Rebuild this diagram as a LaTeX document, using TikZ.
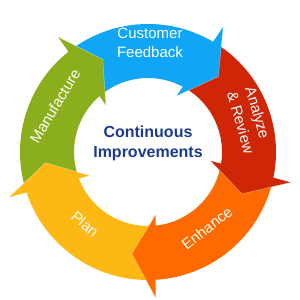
\documentclass[tikz,border=0pt]{standalone}
\usepackage{fontspec}
\setmainfont{Liberation Sans}
\usetikzlibrary{positioning}
\definecolor{fbblue}{HTML}{10A6F5}
\definecolor{revred}{HTML}{CF2608}
\definecolor{enhorange}{HTML}{FF6A00}
\definecolor{planyellow}{HTML}{FDB813}
\definecolor{mfggreen}{HTML}{8BAF1C}
\definecolor{titlenavy}{HTML}{1D3A8F}
% band of one stage: tail under the previous head (#3), end under its own head (#2)
\newcommand{\ringband}[3]{%
  \fill[#1] ({#3+11}:128) arc[start angle=#3+11, end angle=#2+12, radius=128pt]
    -- ({#2+12}:74) arc[start angle=#2+12, end angle=#3+14, radius=74pt] -- cycle;}
% arrow head of one stage, tip at angle #2
\newcommand{\ringhead}[2]{%
  \fill[#1] ({#2+12}:146) -- (#2:103) -- ({#2+16}:63) -- cycle;
  \draw[headedge] ({#2+12}:146) -- (#2:103) -- ({#2+16}:63);}

\begin{document}
\begin{tikzpicture}[
  x=1pt,y=1pt,
  headedge/.style={draw=white,opacity=0.5,line width=0.4pt,line join=round},
  stagelabel/.style={text=white,align=center,inner sep=0pt,
    font=\fontsize{15}{19}\selectfont},
  title/.style={text=titlenavy,align=center,inner sep=0pt,
    font=\bfseries\fontsize{16}{20}\selectfont}
]
\useasboundingbox[fill=white] (-148,-148) rectangle (152,152);
\ringband{fbblue}{47}{116}
\ringband{revred}{-24}{47}
\ringband{enhorange}{-99}{-24}
\ringband{planyellow}{-174}{-99}
\ringband{mfggreen}{-244}{-174}
\ringhead{fbblue}{47}
\ringhead{revred}{-24}
\ringhead{enhorange}{-99}
\ringhead{planyellow}{-174}
\ringhead{mfggreen}{-244}
\node[stagelabel] (feedback) at (2,109) {Customer\\Feedback};
\node[stagelabel,align=left,rotate=-74] (review) at (102,32) {Analyze\\\& Review};
\node[stagelabel,rotate=38] (enhance) at (59,-76) {Enhance};
\node[stagelabel,rotate=-40] (plan) at (-63,-72) {Plan};
\node[stagelabel,rotate=59] (manufacture) at (-93,46) {Manufacture};
\node[title] (center) at (0,9) {Continuous\\Improvements};
\end{tikzpicture}
\end{document}
